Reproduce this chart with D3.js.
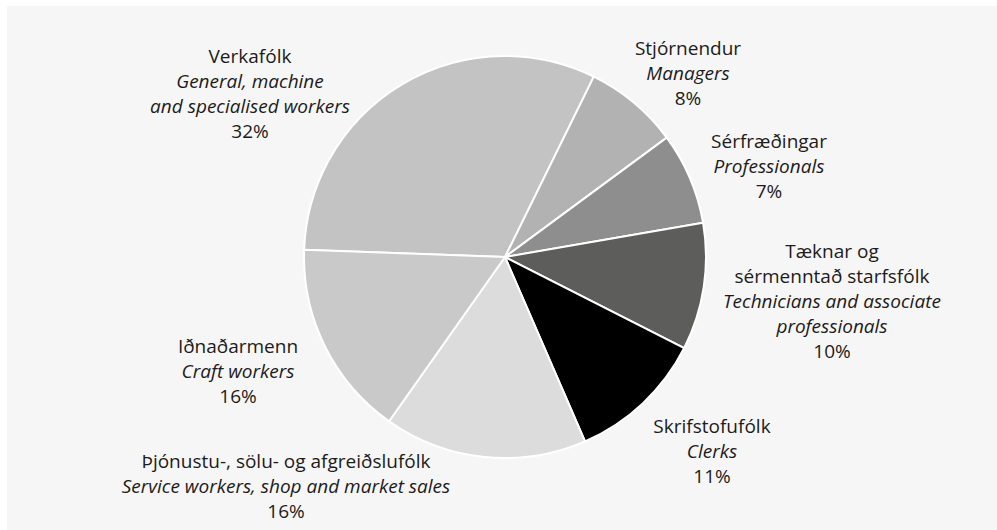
<!DOCTYPE html>
<html>
<head>
<meta charset="utf-8">
<script src="https://cdn.jsdelivr.net/npm/d3@7"></script>
<style>
  html, body { margin: 0; padding: 0; background: #ffffff; }
  #chart { width: 997px; height: 530px; }
</style>
</head>
<body>
<div id="chart"></div>
<script>
// data, clockwise from the left edge of the pie
const namesIs = [
  ["Verkafólk"],
  ["Stjórnendur"],
  ["Sérfræðingar"],
  ["Tæknar og", "sérmenntað starfsfólk"],
  ["Skrifstofufólk"],
  ["Þjónustu-, sölu- og afgreiðslufólk"],
  ["Iðnaðarmenn"]
];
const namesEn = [
  ["General, machine", "and specialised workers"],
  ["Managers"],
  ["Professionals"],
  ["Technicians and associate", "professionals"],
  ["Clerks"],
  ["Service workers, shop and market sales"],
  ["Craft workers"]
];
const shares = [31.7, 7.6, 7.4, 10.2, 11.0, 16.3, 15.8];
const greys = ["#c2c3c2", "#b1b2b1", "#8e8e8e", "#5d5d5b", "#000000", "#dcdcdc", "#c9c9c9"];

// where each label block sits, relative to the pie centre (layout only)
const labelOffset = [[-255, -157], [183, -177], [264, -84], [327, 51], [207, 201], [-219, 236], [-267, 121]];

const width = 997, height = 530;
const cx = 505, cy = 257, radius = 201;
const lineH = 25;

const svg = d3.select("#chart").append("svg")
  .attr("width", width)
  .attr("height", height);

// grey panel behind the chart
svg.append("rect")
  .attr("x", 7)
  .attr("y", 6)
  .attr("width", width - 7)
  .attr("height", height - 6)
  .attr("fill", "#f6f6f6");

const startAngle = -87.9 * Math.PI / 180;
const pie = d3.pie()
  .sort(null)
  .value(d => d)
  .startAngle(startAngle)
  .endAngle(startAngle + 2 * Math.PI);

const arc = d3.arc()
  .innerRadius(0)
  .outerRadius(radius);

const colorScale = d3.scaleOrdinal()
  .domain(d3.range(shares.length))
  .range(greys);

const g = svg.append("g")
  .attr("transform", `translate(${cx},${cy})`);

g.selectAll("path")
  .data(pie(shares))
  .enter()
  .append("path")
  .attr("d", arc)
  .attr("fill", (d, i) => colorScale(i))
  .attr("stroke", "#ffffff")
  .attr("stroke-width", 2)
  .attr("stroke-linejoin", "round");

// labels: icelandic name, english name (italic), rounded share
const labels = g.selectAll("text")
  .data(shares)
  .enter()
  .append("text")
  .attr("text-anchor", "middle")
  .attr("font-family", "'Open Sans', 'Noto Sans', sans-serif")
  .attr("font-size", "19px")
  .attr("fill", "#1d1b1b");

labels.each(function (d, i) {
  const lines = [];
  namesIs[i].forEach(t => lines.push({ t: t, it: false }));
  namesEn[i].forEach(t => lines.push({ t: t, it: true }));
  lines.push({ t: Math.round(d) + "%", it: false });
  const [ox, oy] = labelOffset[i];
  const top = oy - (lines.length - 1) * lineH / 2;
  d3.select(this).selectAll("tspan")
    .data(lines)
    .enter()
    .append("tspan")
    .attr("x", ox)
    .attr("y", (l, j) => top + j * lineH)
    .attr("font-style", l => l.it ? "italic" : "normal")
    .text(l => l.t);
});
</script>
</body>
</html>
